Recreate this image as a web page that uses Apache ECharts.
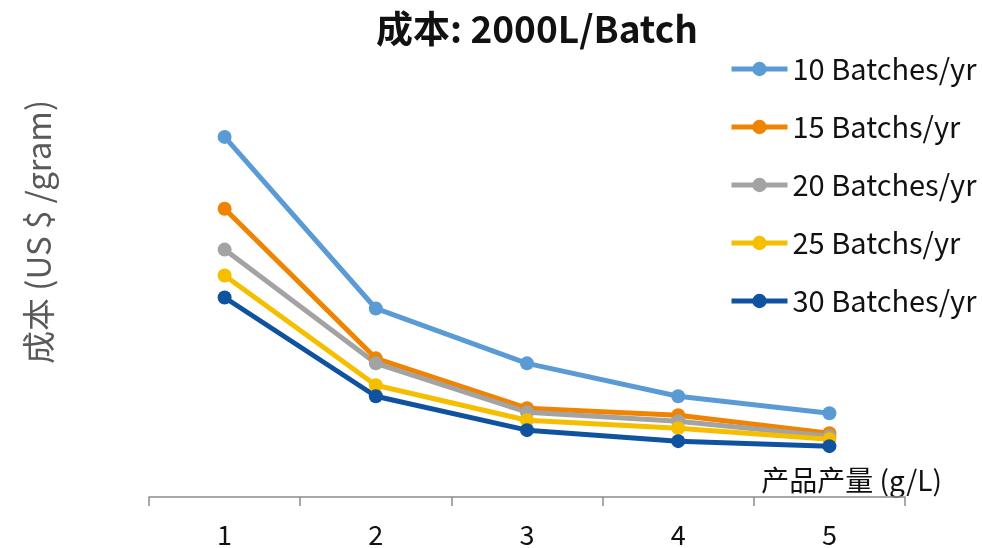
<!DOCTYPE html>
<html><head><meta charset="utf-8">
<script src="https://cdn.jsdelivr.net/npm/echarts@6/dist/echarts.min.js"></script>
<style>html,body{margin:0;padding:0;background:#fff}#c{width:982px;height:548px}</style>
</head><body><div id="c"></div>
<script>
const categories = ['1','2','3','4','5'];
const seriesNames = ['10 Batches/yr','15 Batchs/yr','20 Batches/yr','25 Batchs/yr','30 Batches/yr'];
const s10 = [180.5, 94.5, 67, 50.5, 42];
const s15 = [144.5, 69.5, 44.5, 41, 32];
const s20 = [124, 67, 42.5, 38, 30.5];
const s25 = [111, 56, 38.5, 34.5, 29];
const s30 = [100, 50.5, 33.5, 28, 25.5];
const colors = ['#5B9BD5','#F08300','#A3A3A3','#F5BF00','#0F52A0'];
const allData = [s10, s15, s20, s25, s30];
const FONT = '"Noto Sans CJK SC", "Noto Sans", sans-serif';
const chart = echarts.init(document.getElementById('c'));
chart.setOption({
  animation: false,
  textStyle: {fontFamily: FONT},
  title: {text: '成本: 2000L/Batch', left: 371, top: 5,
    textStyle: {fontFamily: FONT, fontSize: 37, fontWeight: 'bold', color: '#111'}},
  legend: {orient: 'vertical', left: 724, top: 47, itemWidth: 56, itemHeight: 18, itemGap: 24,
    textStyle: {fontFamily: FONT, fontSize: 29, color: '#111', lineHeight: 34},
    lineStyle: {width: 5},
    data: seriesNames},
  grid: {left: 149, right: 77, top: 98, bottom: 50},
  xAxis: {type: 'category', data: categories, boundaryGap: true,
    name: '产品产量 (g/L)', nameLocation: 'end', nameGap: 37,
    nameTextStyle: {fontFamily: FONT, fontSize: 28, color: '#111', align: 'right', verticalAlign: 'bottom', padding: [0,0,3,0]},
    axisLine: {lineStyle: {color: '#8c8c8c', width: 1.5}},
    axisTick: {show: true, length: 9, inside: false, lineStyle: {color: '#8c8c8c', width: 1.5}},
    axisLabel: {fontFamily: FONT, fontSize: 27, color: '#111', margin: 24}},
  yAxis: {type: 'value', min: 0, max: 200,
    axisLine: {show: false}, axisTick: {show: false}, axisLabel: {show: false}, splitLine: {show: false}},
  graphic: [{type: 'text', x: 38, y: 232, rotation: Math.PI / 2,
    style: {text: '成本 (US $ /gram)', font: '33px "Noto Sans CJK SC", sans-serif', fill: '#595959',
      align: 'center', verticalAlign: 'middle'}}],
  series: seriesNames.map((n, i) => ({
    name: n, type: 'line', data: allData[i], symbol: 'circle', symbolSize: 14,
    itemStyle: {color: colors[i]}, lineStyle: {color: colors[i], width: 5}
  }))
});
</script></body></html>
